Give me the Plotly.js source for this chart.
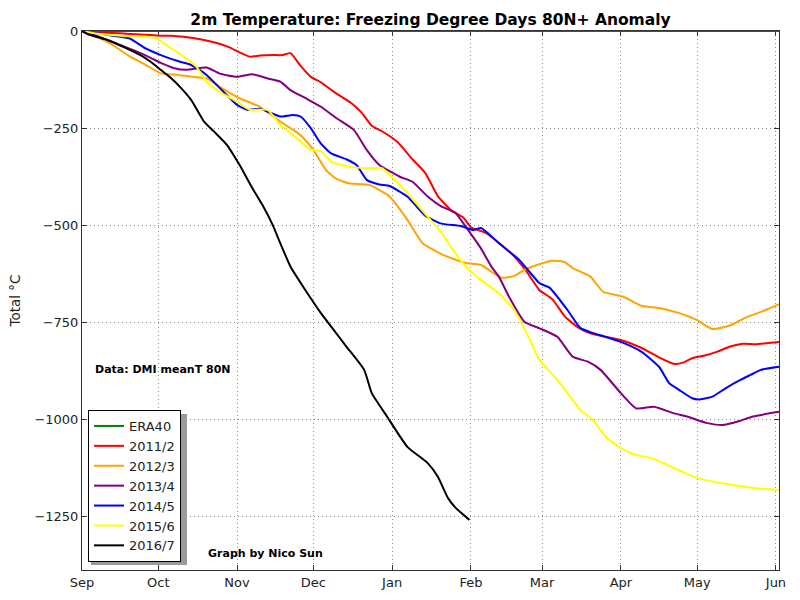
<!DOCTYPE html>
<html>
<head>
<meta charset="utf-8">
<script src="https://cdn.plot.ly/plotly-3.0.1.min.js"></script>
<style>html,body{margin:0;padding:0;background:#fff;}#chart{width:800px;height:600px;}</style>
</head>
<body>
<div id="chart"></div>
<script>
// Day offsets from 1 Sep
const monthTickDays = [0, 30, 61, 91, 122, 153, 181, 212, 242, 273];
const monthTickLabels = ["Sep", "Oct", "Nov", "Dec", "Jan", "Feb", "Mar", "Apr", "May", "Jun"];
const yTickVals = [0, -250, -500, -750, -1000, -1250];

const era40Days = [0, 274.2];
const era40Vals = [0, 0];

const y2011Days = [0,8,15,23,30,35,40,47,53,58,62,66,70,75,79,82,86,90,94,99,106,110,114,118,124,130,135,140,145,150,153,159,164,170,175,180,185,190,195,200,206,212,220,227,233,237,240,245,250,255,260,265,270,274.2];
const y2011Vals = [0,-4,-6,-9,-12,-12,-15,-22,-31,-42,-55,-66,-63,-62,-62,-57,-90,-118,-132,-156,-186,-210,-244,-258,-285,-330,-365,-425,-460,-480,-505,-520,-545,-580,-620,-667,-690,-735,-762,-778,-787,-795,-815,-840,-857,-852,-842,-835,-825,-812,-805,-806,-803,-800];

const y2012Days = [0,7,12,19,25,31,38,44,49,54,62,70,78,86,91,96,100,105,113,121,128,134,142,151,157,165,170,174,179,185,190,193,200,205,213,220,227,235,242,248,255,262,269,274.2];
const y2012Vals = [0,-18,-36,-66,-87,-109,-113,-118,-122,-143,-173,-195,-233,-268,-306,-358,-380,-392,-396,-426,-486,-546,-576,-597,-602,-635,-630,-615,-602,-591,-595,-610,-632,-671,-684,-707,-713,-726,-744,-767,-757,-735,-718,-703];

const y2013Days = [0,3,7,15,23,27,31,36,41,49,54,61,67,73,78,82,88,94,100,107,112,117,125,130,136,141,147,151,157,161,164,168,174,180,187,193,199,204,212,218,225,233,238,246,252,258,264,274.2];
const y2013Vals = [0,-6,-15,-36,-57,-69,-82,-95,-100,-94,-109,-118,-111,-122,-130,-152,-173,-195,-224,-255,-306,-345,-375,-388,-426,-450,-469,-504,-560,-606,-632,-684,-748,-765,-787,-838,-851,-872,-932,-971,-967,-984,-992,-1009,-1014,-1005,-992,-980];

const y2014Days = [0,8,15,19,25,31,38,42,45,49,55,61,65,70,74,78,83,86,90,94,98,104,108,112,117,121,128,135,141,149,154,157,164,172,180,184,191,196,200,206,212,220,227,231,235,240,243,248,253,259,263,267,274.2];
const y2014Vals = [0,-8,-15,-20,-45,-62,-78,-85,-95,-113,-152,-190,-203,-200,-210,-220,-216,-220,-250,-290,-315,-330,-345,-383,-395,-399,-426,-475,-495,-502,-512,-507,-546,-589,-649,-661,-718,-764,-775,-787,-800,-825,-864,-906,-924,-945,-948,-941,-920,-898,-885,-872,-864];

const y2015Days = [0,7,15,25,29,35,40,45,49,54,61,66,73,78,83,90,94,98,105,112,118,121,128,136,141,146,151,157,164,170,175,180,187,192,196,201,206,212,217,225,233,242,251,259,264,274.2];
const y2015Vals = [0,-8,-12,-15,-18,-44,-66,-92,-130,-156,-182,-203,-203,-242,-268,-306,-309,-336,-349,-353,-353,-370,-417,-478,-515,-564,-606,-641,-675,-718,-778,-847,-898,-941,-975,-1001,-1044,-1073,-1089,-1101,-1125,-1150,-1163,-1171,-1176,-1181];

const y2016Days = [0,3,10,16,23,27,31,35,39,43,48,52,57,62,67,71,75,78,82,87,94,99,104,111,114,120,128,136,140,144,147,152.4];
const y2016Vals = [0,-10,-23,-40,-62,-79,-100,-121,-147,-178,-233,-259,-293,-345,-404,-448,-499,-546,-606,-658,-726,-769,-812,-872,-932,-992,-1070,-1112,-1147,-1202,-1227,-1258];

const seriesNames = ["ERA40", "2011/2", "2012/3", "2013/4", "2014/5", "2015/6", "2016/7"];
const seriesColors = ["#008000", "#ff0000", "#ffa500", "#800080", "#0000ff", "#ffff00", "#000000"];
const seriesX = [era40Days, y2011Days, y2012Days, y2013Days, y2014Days, y2015Days, y2016Days];
const seriesY = [era40Vals, y2011Vals, y2012Vals, y2013Vals, y2014Vals, y2015Vals, y2016Vals];

const traces = seriesNames.map((n, i) => ({
  type: "scatter", mode: "lines", name: n,
  x: seriesX[i], y: seriesY[i],
  line: {color: seriesColors[i], width: 2, shape: "spline", smoothing: 0.5},
  cliponaxis: false,
  hoverinfo: "skip"
}));

const font = "DejaVu Sans, Liberation Sans, sans-serif";
const axisCommon = {
  showline: true, linecolor: "#333", linewidth: 1, mirror: "ticks",
  ticks: "inside", ticklen: 5, tickcolor: "#333",
  showgrid: true, gridcolor: "#8c8c8c", griddash: "1px,3px", gridwidth: 1,
  zeroline: false, layer: "below traces",
  tickfont: {family: font, size: 13, color: "#222"}
};

const W = 697, H = 539, L = 82, T = 31;
const px2x = p => (p - L) / W;
const py2y = p => (T + H - p) / H;

const layout = {
  width: 800, height: 600,
  margin: {l: 82, r: 21, t: 31, b: 30},
  paper_bgcolor: "#fff", plot_bgcolor: "#fff",
  title: {text: "<b>2m Temperature: Freezing Degree Days 80N+ Anomaly</b>",
          x: 0.5, xref: "paper", y: 1 - 20/600, yref: "container", yanchor: "middle",
          font: {family: font, size: 15.5, color: "#000"}},
  xaxis: Object.assign({}, axisCommon, {
    range: [0, 274.2], tickmode: "array", tickvals: monthTickDays, ticktext: monthTickLabels
  }),
  yaxis: Object.assign({}, axisCommon, {
    range: [-1387, 0], tickmode: "array", tickvals: yTickVals,
    title: {text: "Total °C", font: {family: font, size: 13.5, color: "#222"}, standoff: 10}
  }),
  showlegend: true,
  legend: {
    x: px2x(88), y: py2y(562), xanchor: "left", yanchor: "bottom",
    bgcolor: "#fff", bordercolor: "#000", borderwidth: 1,
    font: {family: font, size: 13, color: "#222"},
    tracegroupgap: 0, itemwidth: 30
  },
  shapes: [
    {type: "rect", xref: "paper", yref: "paper", layer: "above",
     x0: px2x(91), x1: px2x(187), y0: py2y(565), y1: py2y(414),
     fillcolor: "#9a9a9a", line: {width: 0}}
  ],
  annotations: [
    {text: "<b>Data: DMI meanT 80N</b>", xref: "paper", yref: "paper",
     x: px2x(93), y: py2y(369), xanchor: "left", yanchor: "middle", showarrow: false,
     font: {family: font, size: 11, color: "#000"}},
    {text: "<b>Graph by Nico Sun</b>", xref: "paper", yref: "paper",
     x: px2x(206), y: py2y(553), xanchor: "left", yanchor: "middle", showarrow: false,
     font: {family: font, size: 11, color: "#000"}}
  ]
};

Plotly.newPlot("chart", traces, layout, {staticPlot: true, displayModeBar: false});
</script>
</body>
</html>
